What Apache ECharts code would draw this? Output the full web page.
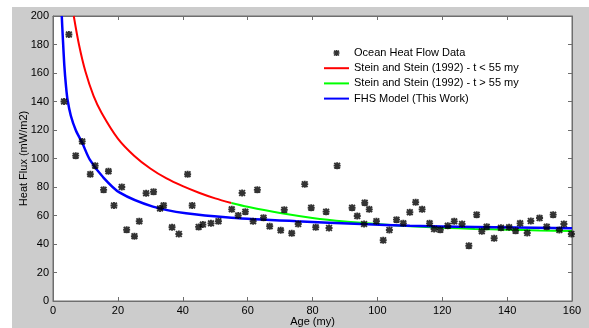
<!DOCTYPE html>
<html>
<head>
<meta charset="utf-8">
<script src="https://cdn.jsdelivr.net/npm/echarts@6/dist/echarts.min.js"></script>
<style>
html,body{margin:0;padding:0;background:#fff;}
#bg{position:absolute;left:12px;top:7px;width:577px;height:321px;background:#cccccc;}
#chart{position:absolute;left:0;top:0;width:589px;height:328px;}
</style>
</head>
<body>
<div id="bg"></div>
<div id="chart"></div>
<script>
// ---- data ----
const dataAges = [3.4,4.9,7.0,9.0,11.5,13.0,15.6,17.1,18.8,21.2,22.7,25.1,26.6,28.7,31.0,33.0,34.1,36.7,38.8,41.5,42.9,44.9,46.2,48.7,51.0,55.1,57.1,58.3,59.3,61.7,63.0,64.9,66.8,70.2,71.3,73.6,75.6,77.6,79.6,81.0,84.2,85.1,87.6,92.2,93.8,95.9,96.1,97.5,99.7,101.8,103.7,105.9,108.0,110.0,111.8,113.8,116.1,117.5,119.4,121.7,123.7,126.1,128.2,130.6,132.2,133.7,136.0,138.1,140.6,142.6,144.0,146.2,147.3,150.0,152.2,154.2,156.1,157.5,159.8];
const dataFlux = [140,187,102,112,89,95,78,91,67,80,50,45.5,56,75.6,76.7,65,67,51.7,47,89,67,52,53.6,54.5,56,64.3,60,75.8,62.7,56,78,58.5,52.4,49.6,64,47.5,54,82,65.5,51.7,62.7,51.2,95,65.5,59.6,54,69,64.3,56,42.6,49.8,57.1,54.5,62.3,69.3,64.3,54.5,50.5,50,52.8,55.9,54,38.8,60.6,48.9,52.1,44,51.4,51.7,49.3,54.5,47.7,56.1,58.2,52.1,60.6,49.8,54,47];

const redAges  = [6.4,8,10,12.5,15,20,25,30,35,40,45,50,55];
const redFlux  = [200,180,161,144,132,114,102,93,86,80.6,76,72,68.8];

const greenAges = [55,60,70,80,90,100,110,120,130,140,150,160];
const greenFlux = [68.8,66.1,61.7,58.3,55.8,54,52.5,51.4,50.6,50,49.5,49.1];

const blueAges = [2.7,3.0,3.5,4.0,4.5,5.5,7.0,9.0,11.4,15.4,20.6,30.8,41,55,75,95,110,130,160];
const blueFlux = [200,186,165,151,141,130,120,111,99,87,76,66.2,61.5,58.5,56,54,52.8,52,51];

const xTicks = [0,20,40,60,80,100,120,140,160];
const yTicks = [0,20,40,60,80,100,120,140,160,180,200];

const seriesNames = ['Ocean Heat Flow Data','Stein and Stein (1992) - t < 55 my','Stein and Stein (1992) - t > 55 my','FHS Model (This Work)'];

function pairs(xs, ys){ return xs.map((x,i)=>[x, ys[i]]); }

const star = 'path://M2.9,0H5.1V2.9H8V5.1H5.1V8H2.9V5.1H0V2.9H2.9Z M1.5,0L8,6.5L6.5,8L0,1.5Z M6.5,0L8,1.5L1.5,8L0,6.5Z';
const FONT = 'Liberation Sans, Arial, sans-serif';
const axisGray = '#6e6e6e';

const chart = echarts.init(document.getElementById('chart'), null, {renderer:'canvas'});
const common = {min: xTicks[0], max: xTicks[xTicks.length-1], interval: 20};
const yCommon = {min: yTicks[0], max: yTicks[yTicks.length-1], interval: 20};

chart.setOption({
  backgroundColor: 'transparent',
  animation: false,
  textStyle: {fontFamily: FONT},
  grid: {left:53, top:16, width:519, height:285, show:true, backgroundColor:'#ffffff', borderColor:axisGray, borderWidth:1,
    containLabel:false, outerBoundsMode:'none'},
  legend: {
    orient:'vertical', left:323, top:47.5, padding:0,
    itemWidth:25, itemHeight:6, itemGap:4.2,
    textStyle:{fontFamily:FONT, fontSize:11, color:'#000'},
    data: [
      {name: seriesNames[0]},
      {name: seriesNames[1], itemStyle:{opacity:0}},
      {name: seriesNames[2], itemStyle:{opacity:0}},
      {name: seriesNames[3], itemStyle:{opacity:0}}
    ]
  },
  xAxis: [
    Object.assign({type:'value', position:'bottom', name:'Age (my)', nameLocation:'middle', nameGap:15, nameMoveOverlap:false,
      nameTextStyle:{fontFamily:FONT, fontSize:11, color:'#000', verticalAlign:'top'},
      axisLine:{show:true, onZero:false, lineStyle:{color:axisGray}},
      axisTick:{show:true, inside:true, length:4, lineStyle:{color:axisGray}},
      axisLabel:{show:true, color:'#000', fontFamily:FONT, fontSize:11, margin:4},
      splitLine:{show:false}}, common),
    Object.assign({type:'value', position:'top',
      axisLine:{show:true, onZero:false, lineStyle:{color:axisGray}},
      axisTick:{show:true, inside:true, length:4, lineStyle:{color:axisGray}},
      axisLabel:{show:false}, splitLine:{show:false}}, common)
  ],
  yAxis: [
    Object.assign({type:'value', position:'left', name:'Heat Flux (mW/m2)', nameLocation:'middle', nameGap:24, nameMoveOverlap:false,
      nameTextStyle:{fontFamily:FONT, fontSize:11, color:'#000'},
      axisLine:{show:true, onZero:false, lineStyle:{color:axisGray}},
      axisTick:{show:true, inside:true, length:4, lineStyle:{color:axisGray}},
      axisLabel:{show:true, color:'#000', fontFamily:FONT, fontSize:11, margin:4},
      splitLine:{show:false}}, yCommon),
    Object.assign({type:'value', position:'right',
      axisLine:{show:true, onZero:false, lineStyle:{color:axisGray}},
      axisTick:{show:true, inside:true, length:4, lineStyle:{color:axisGray}},
      axisLabel:{show:false}, splitLine:{show:false}}, yCommon)
  ],
  series: [
    {name:seriesNames[0], type:'scatter', data:pairs(dataAges, dataFlux), symbol:star, symbolSize:7,
      itemStyle:{color:'#000'}, clip:true, z:3},
    {name:seriesNames[1], type:'line', data:pairs(redAges, redFlux), smooth:0.3, symbol:'none', clip:true,
      lineStyle:{color:'#ff0000', width:2}, itemStyle:{color:'#ff0000'}, z:2},
    {name:seriesNames[2], type:'line', data:pairs(greenAges, greenFlux), smooth:0.3, symbol:'none', clip:true,
      lineStyle:{color:'#00ff00', width:2}, itemStyle:{color:'#00ff00'}, z:2},
    {name:seriesNames[3], type:'line', data:pairs(blueAges, blueFlux), smooth:0.3, symbol:'none', clip:true,
      lineStyle:{color:'#0000ff', width:2.5}, itemStyle:{color:'#0000ff'}, z:2}
  ]
});
</script>
</body>
</html>
